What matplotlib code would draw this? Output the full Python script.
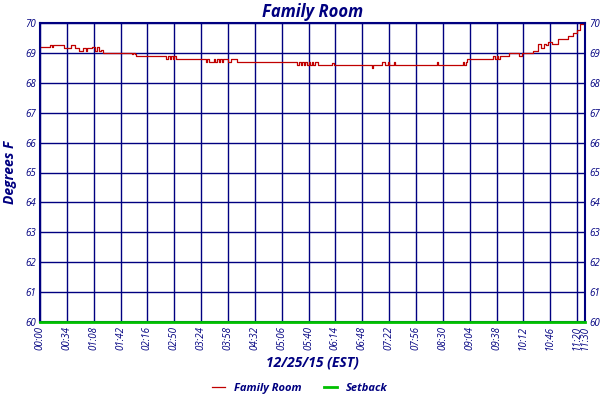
import matplotlib
matplotlib.use("Agg")
import matplotlib.pyplot as plt
import matplotlib.transforms as mtransforms

# minutes since 00:00, temperature (step)
times = [0, 13, 15, 17, 30, 39, 44, 50, 55, 58, 60, 66, 70, 72, 75, 77, 80, 116, 118, 120, 122,
         160, 162, 164, 166, 168, 170, 172, 210, 212, 214, 220, 222, 224, 226, 228, 230, 232, 238, 242, 250,
         326, 328, 330, 332, 334, 336, 338, 340, 342, 344, 346, 348, 352, 370, 372, 420, 422, 433, 437, 440, 442,
         448, 450, 500, 502, 504, 535, 537, 539, 540, 572, 574, 576, 578, 580, 582, 590, 594, 606, 610,
         624, 630, 634, 638, 640, 643, 648, 656, 668, 675, 680, 684, 688, 690]
temps = [69.2, 69.25, 69.2, 69.25, 69.15, 69.25, 69.15, 69.05, 69.15, 69.05, 69.15, 69.2, 69.05, 69.2, 69.05, 69.1, 69.0, 68.95, 69.0, 68.95, 68.9,
         68.8, 68.9, 68.8, 68.9, 68.8, 68.9, 68.8, 68.7, 68.8, 68.7, 68.8, 68.7, 68.8, 68.7, 68.8, 68.7, 68.8, 68.7, 68.8, 68.7,
         68.6, 68.7, 68.6, 68.7, 68.6, 68.7, 68.6, 68.7, 68.6, 68.7, 68.6, 68.7, 68.6, 68.65, 68.6, 68.5, 68.6, 68.7, 68.6, 68.7, 68.6,
         68.7, 68.6, 68.6, 68.7, 68.6, 68.7, 68.6, 68.7, 68.8, 68.8, 68.9, 68.8, 68.9, 68.8, 68.9, 68.9, 69.0, 68.9, 69.0,
         69.05, 69.3, 69.15, 69.3, 69.25, 69.35, 69.3, 69.45, 69.55, 69.65, 69.75, 69.95, 69.95, 69.95]
setback_t = [0, 690]
setback_v = [60, 60]
xtick_labels = ["00:00", "00:34", "01:08", "01:42", "02:16", "02:50", "03:24", "03:58", "04:32", "05:06",
                "05:40", "06:14", "06:48", "07:22", "07:56", "08:30", "09:04", "09:38", "10:12", "10:46", "11:20", "11:30"]
xtick_pos = [34 * i for i in range(21)] + [690]
yticks = list(range(60, 71))

navy = "#000080"
fam = "Open Sans"
fig = plt.figure(figsize=(6, 4), dpi=100)
ax = fig.add_axes([40/600, 78/400, 545/600, 299/400])
ax.step(times, temps, where="post", color="#c00000", lw=0.9, label="Family Room")
ax.plot(setback_t, setback_v, color="#00c000", lw=2, label="Setback", zorder=5, clip_on=False)
ax.set_xlim(0, 690)
ax.set_ylim(60, 70)
ax.set_xticks(xtick_pos)
ax.set_xticklabels(xtick_labels, rotation=90, fontsize=7, color=navy, family=fam, style="italic")
lbls = ax.get_xticklabels()
lbls[-2].set_transform(lbls[-2].get_transform() + mtransforms.ScaledTranslation(-3/72, 0, fig.dpi_scale_trans))
lbls[-1].set_transform(lbls[-1].get_transform() + mtransforms.ScaledTranslation(2/72, 0, fig.dpi_scale_trans))
ax.set_yticks(yticks)
ax.set_yticklabels([str(v) for v in yticks], fontsize=7, color=navy, family=fam, style="italic")
ax.tick_params(length=0, pad=3, right=True, labelright=True)
ax.grid(True, color=navy, lw=1)
for s in ax.spines.values():
    s.set_color(navy); s.set_linewidth(1.5)
ax.set_title("Family Room", color=navy, fontsize=12, family=fam, style="italic", fontweight="bold", pad=4)
ax.set_ylabel("Degrees F", color=navy, fontsize=10, family=fam, style="italic", fontweight="bold", labelpad=6)
ax.set_xlabel("12/25/15 (EST)", color=navy, fontsize=10, family=fam, style="italic", fontweight="bold", labelpad=4)
leg = fig.legend(loc="lower center", ncol=2, frameon=False, bbox_to_anchor=(0.5, -0.01),
                 prop={"family": fam, "style": "italic", "size": 8, "weight": "bold"}, handlelength=1.2)
for t in leg.get_texts():
    t.set_color(navy)
fig.savefig("out.png", dpi=100)
